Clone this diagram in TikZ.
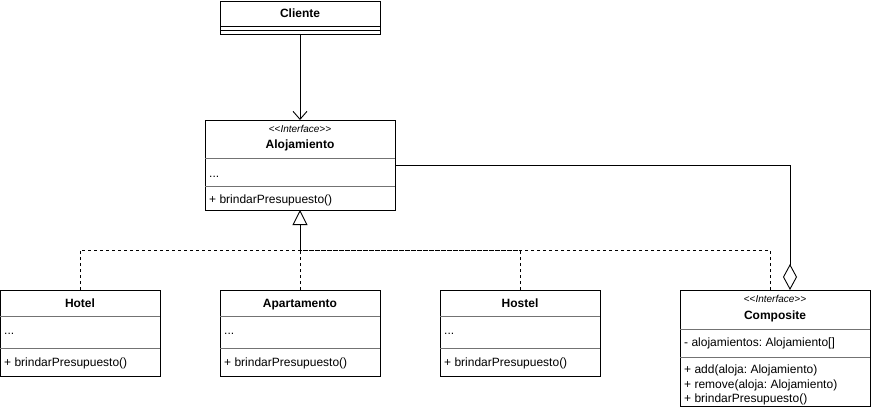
\documentclass[tikz,border=0pt]{standalone}
\usepackage{fontspec}
\setmainfont[Ligatures=NoCommon]{Liberation Sans}
\usetikzlibrary{arrows.meta}
\newcommand{\stereotag}[1]{\textless{}\textless{}#1\textgreater{}\textgreater{}}
\frenchspacing
\begin{document}
\begin{tikzpicture}[x=1pt,y=-1pt,
  classbox/.style={draw, line width=0.9pt, anchor=north west, inner sep=0pt, outer sep=0pt},
  sepline/.style={draw=black!55, line width=0.7pt},
  ctitle/.style={anchor=base, font=\bfseries\fontsize{12}{14}\selectfont, inner sep=0pt},
  stereo/.style={anchor=base, font=\fontsize{10}{12}\selectfont, inner sep=0pt},
  member/.style={anchor=base west, font=\fontsize{12}{14}\selectfont, inner sep=0pt},
  assoc/.style={line width=0.9pt, -{Straight Barb[length=8pt, width=14pt, line width=0.9pt]}},
  realize/.style={line width=0.9pt, dash pattern=on 3pt off 3pt},
  inherit/.style={line width=0.9pt, -{Triangle[open, length=15pt, width=15pt, line width=0.9pt]}},
  aggreg/.style={line width=0.9pt, -{Diamond[open, length=26pt, width=14pt, line width=0.9pt]}}
]
\useasboundingbox (0,0) rectangle (872,412);

% Cliente
\node[classbox, minimum width=160pt, minimum height=33pt] (cliente) at (220,1) {};
\node[ctitle] (clienteT) at (300,18) {Cliente};
\draw[line width=0.9pt] (220,26) -- (380,26);
\draw[line width=0.9pt] (220,30) -- (380,30);

% Alojamiento
\node[classbox, minimum width=190pt, minimum height=90pt] (aloj) at (205,120) {};
\node[stereo] (alojS) at (300,132.5) {\stereotag{\itshape Interface}};
\node[ctitle] (alojT) at (300,148) {Alojamiento};
\draw[sepline] (205,158) -- (395,158);
\node[member] (alojA) at (209,177) {...};
\draw[sepline] (205,186) -- (395,186);
\node[member] (alojM) at (209,203) {+ brindarPresupuesto()};

% Hotel
\node[classbox, minimum width=160pt, minimum height=86pt] (hotel) at (0,290) {};
\node[ctitle] (hotelT) at (80,307) {Hotel};
\draw[sepline] (0,316) -- (160,316);
\node[member] (hotelA) at (4,334) {...};
\draw[sepline] (0,348) -- (160,348);
\node[member] (hotelM) at (4,366) {+ brindarPresupuesto()};

% Apartamento
\node[classbox, minimum width=160pt, minimum height=86pt] (apto) at (220,290) {};
\node[ctitle] (aptoT) at (300,307) {Apartamento};
\draw[sepline] (220,316) -- (380,316);
\node[member] (aptoA) at (224,334) {...};
\draw[sepline] (220,348) -- (380,348);
\node[member] (aptoM) at (224,366) {+ brindarPresupuesto()};

% Hostel
\node[classbox, minimum width=160pt, minimum height=86pt] (hostel) at (440,290) {};
\node[ctitle] (hostelT) at (520,307) {Hostel};
\draw[sepline] (440,316) -- (600,316);
\node[member] (hostelA) at (444,334) {...};
\draw[sepline] (440,348) -- (600,348);
\node[member] (hostelM) at (444,366) {+ brindarPresupuesto()};

% Composite
\node[classbox, minimum width=190pt, minimum height=116pt] (comp) at (680,290) {};
\node[stereo] (compS) at (775,302.5) {\stereotag{\itshape Interface}};
\node[ctitle] (compT) at (775,319) {Composite};
\draw[sepline] (680,329) -- (870,329);
\node[member] (compA) at (684,346) {- alojamientos: Alojamiento[]};
\draw[sepline] (680,357) -- (870,357);
\node[member] (compM1) at (684,373) {+ add(aloja: Alojamiento)};
\node[member] (compM2) at (684,388) {+ remove(aloja: Alojamiento)};
\node[member] (compM3) at (684,402) {+ brindarPresupuesto()};

% Connectors
\coordinate (junction) at (300,250);
\coordinate (compReal) at (770,290);
\coordinate (compAgg) at (790,290);

\draw[assoc] (cliente.south) -- (aloj.north);
\draw[inherit] (junction) -- (aloj.south);
\draw[realize] (hotel.north) |- (junction);
\draw[realize] (apto.north) -- (junction);
\draw[realize] (hostel.north) |- (junction);
\draw[realize] (compReal) |- (junction);
\draw[aggreg] (aloj.east) -| (compAgg);
\end{tikzpicture}
\end{document}
